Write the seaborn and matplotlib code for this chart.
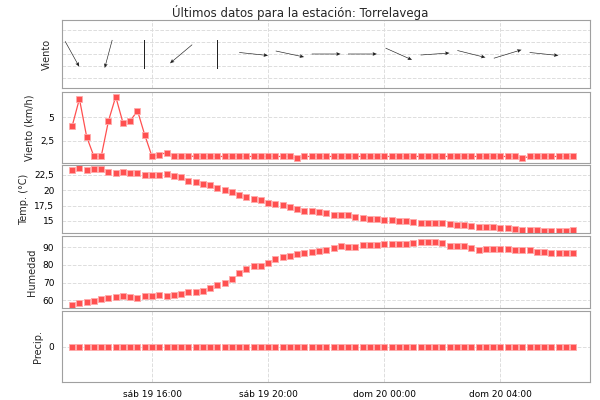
import numpy as np
import pandas as pd
import matplotlib
matplotlib.use('Agg')
from matplotlib import pyplot as plt
import matplotlib.dates as mdates
import seaborn as sns

sns.set_style('white')
plt.rcParams['font.family'] = ['DejaVu Sans']

# 15-minute readings, sab 19 13:15 -> dom 20 06:30
start = pd.Timestamp('2014-07-19 13:15')
times = pd.date_range(start, periods=70, freq='15min')

wind_speed = [4.05, 6.97, 2.9, 0.8, 0.8, 4.6, 7.2, 4.4, 4.6, 5.7, 3.1, 0.8, 1.0, 1.2, 0.9, 0.8,
              0.85, 0.8, 0.8, 0.8, 0.8, 0.8, 0.8, 0.8, 0.8, 0.8, 0.8, 0.8, 0.8, 0.8, 0.8, 0.6,
              0.8, 0.8, 0.8, 0.8, 0.8, 0.8, 0.8, 0.8, 0.8, 0.8, 0.8, 0.8, 0.8, 0.8, 0.8, 0.8,
              0.8, 0.8, 0.8, 0.8, 0.8, 0.85, 0.8, 0.8, 0.8, 0.8, 0.8, 0.8, 0.8, 0.8, 0.6, 0.8,
              0.8, 0.85, 0.8, 0.8, 0.8, 0.8]
temperature = [23.3, 23.6, 23.3, 23.5, 23.4, 22.9, 22.8, 23.0, 22.8, 22.8, 22.5, 22.5, 22.5, 22.7,
               22.3, 22.2, 21.5, 21.4, 21.0, 20.8, 20.4, 20.1, 19.7, 19.2, 18.9, 18.6, 18.4, 18.0,
               17.8, 17.6, 17.3, 17.0, 16.6, 16.6, 16.4, 16.3, 15.9, 15.9, 15.9, 15.7, 15.5, 15.4,
               15.3, 15.2, 15.1, 15.0, 15.0, 14.9, 14.6, 14.6, 14.6, 14.6, 14.5, 14.3, 14.3, 14.2,
               14.1, 14.0, 14.0, 13.9, 13.8, 13.7, 13.6, 13.5, 13.5, 13.4, 13.4, 13.4, 13.4, 13.5]
humidity = [57.4, 58.1, 59.1, 59.3, 60.6, 61.0, 61.9, 62.1, 61.5, 61.3, 62.3, 62.5, 62.7, 62.5,
            63.1, 63.2, 64.4, 64.6, 65.3, 67.0, 68.6, 69.7, 72.0, 75.4, 77.9, 79.4, 79.6, 81.1,
            83.4, 84.5, 85.3, 86.2, 87.0, 87.2, 87.9, 88.5, 89.8, 90.6, 90.4, 90.4, 91.3, 91.5,
            91.5, 91.9, 91.9, 91.9, 91.9, 92.7, 93.2, 93.0, 92.8, 92.7, 90.6, 90.8, 90.9, 89.6,
            88.5, 89.2, 89.2, 88.9, 88.9, 88.7, 88.5, 88.5, 87.3, 87.2, 87.0, 87.0, 87.0, 86.8]
precip = [0.0] * 70

# wind arrows every 5th reading: screen angle the arrow points to, and whether it has a head
arrow_angle = [-61, -105, -90, -140, -90, -6, -12, 0, 0, -24, 4, -14, 17, -6]
arrow_head = [True, True, False, True, False, True, True, True, True, True, True, True, True, True]

df = pd.DataFrame({'t': times, 'wind': wind_speed, 'temp': temperature,
                   'hum': humidity, 'precip': precip})

RED = '#ff5050'
EDGE = '#ffaaaa'
days = {5: 'sáb', 6: 'dom'}

fig = plt.figure(figsize=(6, 4), dpi=100)
rows = [(20, 88), (92, 163), (165, 233), (236, 308), (311, 382)]
axes = [fig.add_axes([62 / 600, 1 - b / 400, 528 / 600, (b - a) / 400]) for a, b in rows]

xmin = pd.Timestamp('2014-07-19 12:54')
xmax = pd.Timestamp('2014-07-20 07:05')
ticks = pd.date_range('2014-07-19 16:00', periods=4, freq='4h')

for ax in axes:
    ax.grid(True, color='#dddddd', linestyle='--', linewidth=0.7)
    for s in ax.spines.values():
        s.set_color('#a0a0a0')
    ax.tick_params(labelsize=6.5, length=2, colors='black')

# direction panel
ax = axes[0]
at = df['t'].iloc[::5]
ang = np.radians(arrow_angle)
u, v = np.cos(ang), np.sin(ang)
head = np.array(arrow_head)
xs = mdates.date2num(at)
kw = dict(pivot='middle', angles='uv', scale_units='dots', scale=1 / 29, width=0.0012, color='#222222')
ax.quiver(xs[head], np.zeros(head.sum()), u[head], v[head], headwidth=6, headlength=7, headaxislength=6, **kw)
ax.quiver(xs[~head], np.zeros((~head).sum()), u[~head], v[~head], headwidth=0, headlength=0, headaxislength=0, **kw)
ax.set_ylim(-1.4, 1.4)
ax.set_yticks([-1, -0.5, 0, 0.5, 1])
ax.set_yticklabels([])
ax.tick_params(axis='y', length=0)
ax.set_ylabel('Viento', fontsize=7)

ax = axes[1]
sns.lineplot(data=df, x='t', y='wind', ax=ax, color=RED, linewidth=0.9, marker='s',
             markersize=4.5, markeredgecolor=EDGE, markeredgewidth=0.6)
ax.set_ylim(0.1, 7.7)
ax.set_yticks([2.5, 5])
ax.set_yticklabels(['2,5', '5'])
ax.set_ylabel('Viento (km/h)', fontsize=7)

for ax, col, lim, yt, ylab, lbl in [
        (axes[2], 'temp', (13.05, 24.1), [15, 17.5, 20, 22.5], ['15', '17,5', '20', '22,5'], 'Temp. (°C)'),
        (axes[3], 'hum', (55.5, 96.5), [60, 70, 80, 90], ['60', '70', '80', '90'], 'Humedad'),
        (axes[4], 'precip', (-1, 1), [0], ['0'], 'Precip.')]:
    sns.scatterplot(data=df, x='t', y=col, ax=ax, color=RED, marker='s', s=24,
                    edgecolor=EDGE, linewidth=0.6)
    ax.set_ylim(*lim)
    ax.set_yticks(yt)
    ax.set_yticklabels(ylab)
    ax.set_ylabel(lbl, fontsize=7)

for ax in axes:
    ax.set_xlabel('')
    ax.set_xlim(xmin, xmax)
    ax.set_xticks(ticks)
axes[-1].set_xticklabels([f'{days[t.weekday()]} {t.day} {t:%H:%M}' for t in ticks])
for ax in axes[:-1]:
    ax.set_xticklabels([])

fig.text(0.5, 0.988, 'Últimos datos para la estación: Torrelavega', ha='center', va='top', fontsize=8.5)
fig.savefig('out.png', dpi=100)
